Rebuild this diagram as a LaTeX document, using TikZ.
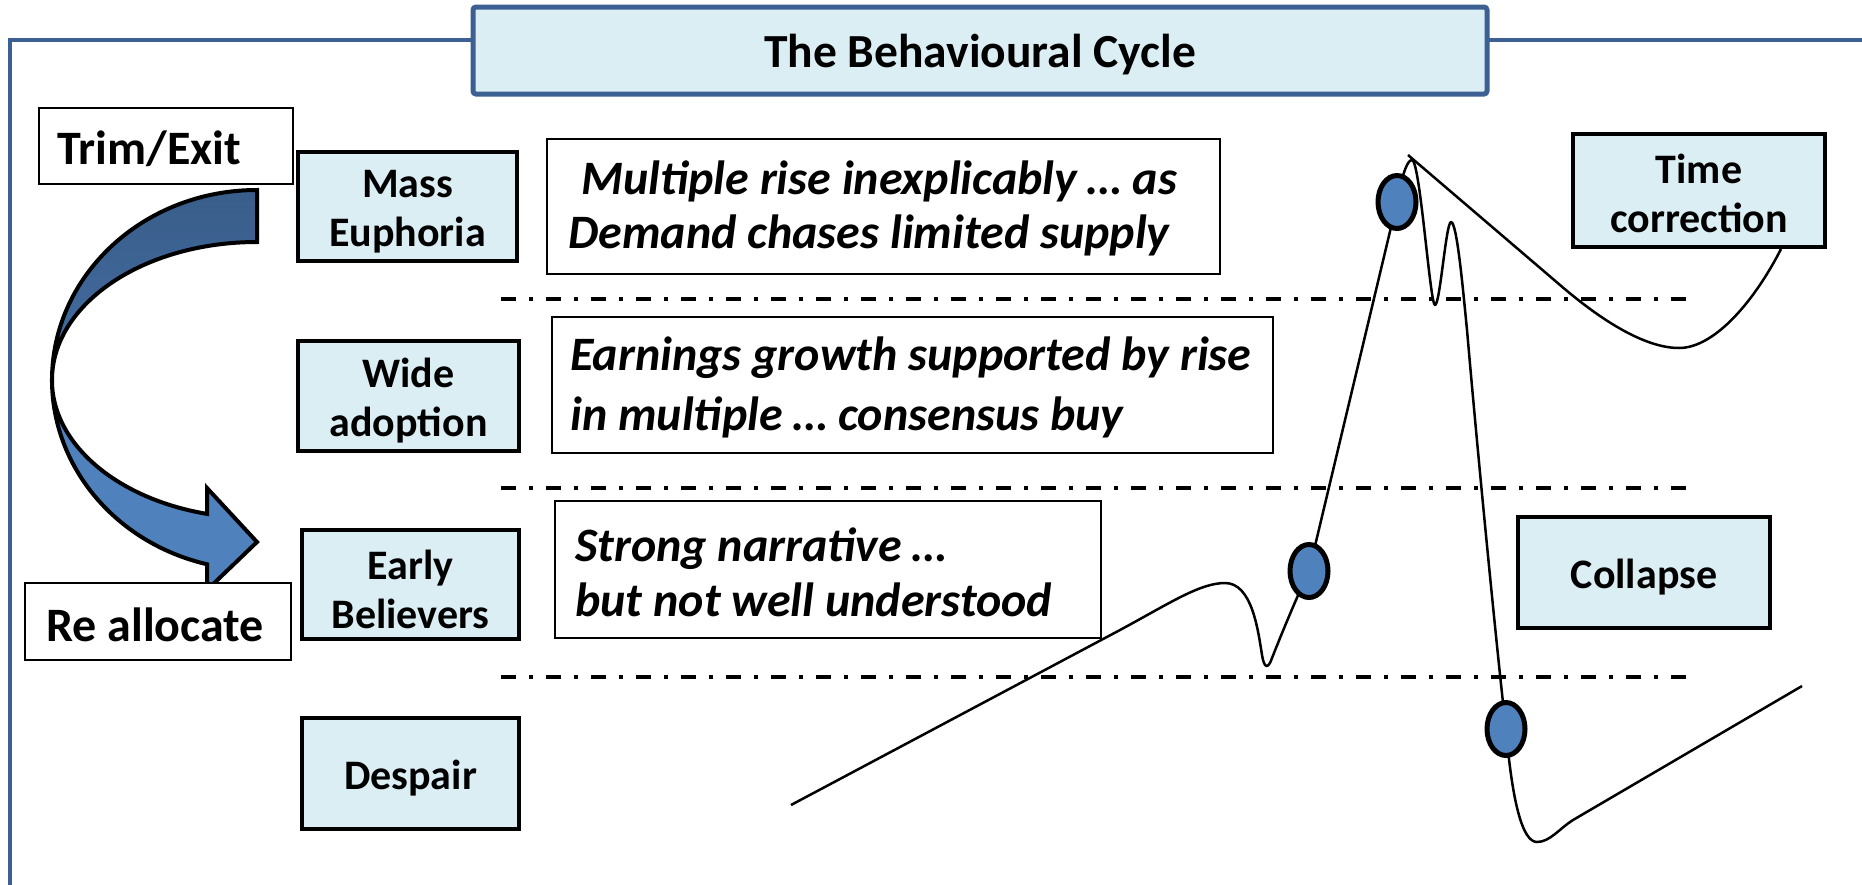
\documentclass[tikz,border=0pt]{standalone}
\usepackage{fontspec}
\setmainfont{Carlito}
\usetikzlibrary{shapes.geometric}
\definecolor{lblue}{RGB}{219,238,244}
\definecolor{fblue}{RGB}{60,96,145}
\definecolor{cblue}{RGB}{79,129,189}
\definecolor{dblue}{RGB}{64,104,154}
\begin{document}
\begin{tikzpicture}[x=1pt,y=-1pt,
  stagebox/.style={draw=black, line width=4pt, fill=lblue, inner sep=0pt},
  stagetext/.style={align=center, inner sep=0pt, font=\bfseries\fontsize{42}{49}\selectfont},
  notebox/.style={draw=black, line width=1.8pt, fill=white, inner sep=0pt},
  notetext/.style={align=left, inner sep=0pt, anchor=west,
    font=\bfseries\itshape\fontsize{48}{54}\selectfont},
  actbox/.style={draw=black, line width=2pt, fill=white, inner sep=0pt},
  acttext/.style={inner sep=0pt, anchor=west, font=\bfseries\fontsize{48}{56}\selectfont},
  guide/.style={line width=3.5pt, dash pattern=on 15pt off 13pt on 4pt off 13pt},
  curve/.style={line width=2.5pt, line join=round},
  dot/.style={ellipse, draw=black, line width=5pt, fill=cblue, minimum width=38pt,
    minimum height=53pt, inner sep=0pt},
  arrowpart/.style={draw=black, line width=4pt, line join=miter}
]
\useasboundingbox (0,0) rectangle (1862,884);
% frame
\draw[fblue, line width=4pt] (10,900) -- (10,40) -- (1880,40);
% title
\node[draw=fblue, line width=5pt, fill=lblue, rounded corners=3pt, minimum width=1014pt,
  minimum height=87pt, inner sep=0pt] (title) at (980,50.5) {};
\node[inner sep=0pt, font=\bfseries\fontsize{47.5}{57}\selectfont]
  (titleT) at ([yshift=-4pt]title.center) {The Behavioural Cycle};

% curved arrow
\fill[cblue] (52,380) arc[start angle=180, end angle=104.1, x radius=205, y radius=190]
  -- (207,590) -- (257,542) -- (207,488) -- (207,513.9)
  arc[start angle=104.1, end angle=180, x radius=205, y radius=138] -- cycle;
\draw[arrowpart] (52,380) arc[start angle=180, end angle=104.1, x radius=205, y radius=190]
  -- (207,590) -- (257,542) -- (207,488) -- (207,513.9)
  arc[start angle=104.1, end angle=180, x radius=205, y radius=138] -- cycle;
\draw[arrowpart, top color=dblue!90!black, bottom color=dblue!80!cblue]
  (257,190) arc[start angle=270, end angle=180, x radius=205, y radius=190]
  arc[start angle=180, end angle=270, x radius=205, y radius=138] -- cycle;

% action boxes
\node[actbox, minimum width=254pt, minimum height=76pt] (trim) at (166,146) {};
\node[acttext] (trimT) at ([xshift=19pt,yshift=-3pt]trim.west) {Trim/Exit};
\node[actbox, minimum width=266pt, minimum height=77pt] (realloc) at (158,621.5) {};
\node[acttext] (reallocT) at ([xshift=22pt,yshift=-3pt]realloc.west) {Re allocate};

% stage boxes
\node[stagebox, minimum width=219pt, minimum height=109pt] (mass) at (407.5,206.5) {};
\node[stagebox, minimum width=221pt, minimum height=110pt] (wide) at (408.5,396) {};
\node[stagebox, minimum width=217pt, minimum height=109pt] (early) at (410.5,584.5) {};
\node[stagebox, minimum width=217pt, minimum height=111pt] (despair) at (410.5,773.5) {};
\node[stagebox, minimum width=252pt, minimum height=113pt] (timecorr) at (1699,190.5) {};
\node[stagebox, minimum width=252pt, minimum height=111pt] (collapse) at (1644,572.5) {};
\node[stagetext] (massT) at ([yshift=-5pt]mass.center) {Mass\\Euphoria};
\node[stagetext] (wideT) at ([yshift=-5pt]wide.center) {Wide\\adoption};
\node[stagetext] (earlyT) at ([yshift=-5pt]early.center) {Early\\Believers};
\node[stagetext] (despairT) at ([yshift=-5pt]despair.center) {Despair};
\node[stagetext] (timecorrT) at ([yshift=-3pt]timecorr.center) {Time\\correction};
\node[stagetext] (collapseT) at ([yshift=-5pt]collapse.center) {Collapse};

% note boxes
\node[notebox, minimum width=673pt, minimum height=135pt] (multiple) at (883.5,206.5) {};
\node[notebox, minimum width=721pt, minimum height=136pt] (earnings) at (912.5,385) {};
\node[notebox, minimum width=546pt, minimum height=137pt] (strong) at (828,569.5) {};
\node[notetext] (multipleT) at ([xshift=22pt,yshift=-2pt]multiple.west)
  {\hspace*{13pt}Multiple rise inexplicably … as\\Demand chases limited supply};
\node[notetext, font=\bfseries\itshape\fontsize{48}{60}\selectfont] (earningsT)
  at ([xshift=19pt,yshift=-2pt]earnings.west)
  {Earnings growth supported by rise\\in multiple … consensus buy};
\node[notetext, font=\bfseries\itshape\fontsize{48}{55}\selectfont] (strongT)
  at ([xshift=21pt,yshift=-3pt]strong.west)
  {Strong narrative …\\but not well understood};

% guide lines
\coordinate (g1a) at (501,299); \coordinate (g1b) at (1695,299);
\coordinate (g2a) at (501,488); \coordinate (g2b) at (1695,488);
\coordinate (g3a) at (501,677); \coordinate (g3b) at (1695,677);
\draw[guide] (g1a) -- (g1b);
\draw[guide] (g2a) -- (g2b);
\draw[guide] (g3a) -- (g3b);

% cycle curve
\coordinate (s) at (791,805);
\coordinate (c2) at (1309,571);
\coordinate (c1) at (1397,202);
\coordinate (c3) at (1506,729);
\coordinate (e) at (1802,686);
\coordinate (tp) at (1408,155);
\draw[curve] (s) -- (1120,630) .. controls (1170,603) and (1200,583) .. (1225,583)
  .. controls (1252,583) and (1258,630) .. (1262,655)
  .. controls (1264,668) and (1268,670) .. (1272,658)
  .. controls (1285,625) and (1300,590) .. (c2) -- (c1)
  .. controls (1403,170) and (1408,160) .. (1412,160)
  .. controls (1420,160) and (1430,305) .. (1435,305)
  .. controls (1440,305) and (1446,222) .. (1451,222)
  .. controls (1457,222) and (1463,290) .. (1467,330)
  .. controls (1480,480) and (1500,680) .. (c3)
  .. controls (1512,800) and (1522,842) .. (1537,842)
  .. controls (1550,842) and (1560,828) .. (1573,820) -- (e);
\draw[curve] (tp) -- (1560,285) .. controls (1610,328) and (1650,348) .. (1679,348)
  .. controls (1715,348) and (1755,300) .. (timecorr.south -| 1781,0);

% markers
\node[dot] (m1) at (c1) {};
\node[dot] (m2) at (c2) {};
\node[dot] (m3) at (c3) {};
\end{tikzpicture}
\end{document}
